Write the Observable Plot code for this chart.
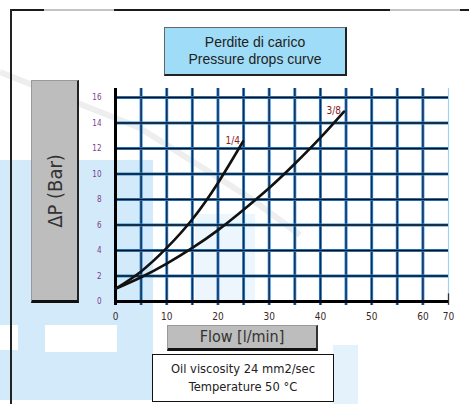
<!DOCTYPE html>
<html>
<head>
<meta charset="utf-8">
<script src="https://cdn.jsdelivr.net/npm/d3@7"></script>
<script src="https://cdn.jsdelivr.net/npm/@observablehq/plot@0.6"></script>
<style>
  html, body { margin: 0; padding: 0; background: #fff; }
  #wrap { position: relative; width: 469px; height: 404px; overflow: hidden; background: #fff; }
  .abs { position: absolute; box-sizing: border-box; }
  #chart { position: absolute; left: 0; top: 0; }
  .cond { font-family: "DejaVu Sans Condensed", "Liberation Sans Narrow", "DejaVu Sans", sans-serif; }
</style>
</head>
<body>
<div id="wrap">
  <!-- faint watermark -->
  <div class="abs" style="left:0;top:160px;width:153px;height:240px;background:#d2eaf9;"></div>
  <div class="abs" style="left:0;top:325px;width:18px;height:25px;background:#fff;"></div>
  <div class="abs" style="left:45px;top:325px;width:72px;height:27px;background:#fff;"></div>
  <div class="abs" style="left:195px;top:214px;width:60px;height:90px;background:#edf6fc;"></div>
  <div class="abs" style="left:333px;top:345px;width:25px;height:59px;background:#e3f2fb;"></div>
  <svg class="abs" style="left:0;top:0" width="469" height="404">
    <polyline points="0,72 140,128 250,198 300,235" fill="none" stroke="#eeeeee" stroke-width="6"/>
  </svg>

  <div id="chart"></div>

  <!-- outer frame -->
  <div class="abs" style="left:10px;top:9px;width:459px;height:2px;background:#1a1a1a;"></div>
  <div class="abs" style="left:44px;top:9px;width:70px;height:2px;background:#c4c4c4;"></div>
  <div class="abs" style="left:390px;top:9px;width:70px;height:2px;background:#c4c4c4;"></div>
  <div class="abs" style="left:10px;top:9px;width:2px;height:395px;background:#222;"></div>

  <!-- title -->
  <div class="abs" id="title" style="left:164px;top:27px;width:183px;height:49px;background:#9fdcf7;border:1px solid #666;border-right:2px solid #222;border-bottom:2px solid #222;font-family:'Liberation Sans',Arial,sans-serif;font-size:14px;line-height:17px;text-align:center;padding-top:6px;color:#222;"></div>

  <!-- y label box -->
  <div class="abs" style="left:31px;top:80px;width:48px;height:223px;background:#bdbdbd;border:1px solid #999;border-right:2px solid #222;border-bottom:3px solid #111;">
    <div id="ylab" class="cond" style="position:absolute;left:50%;top:50%;transform:translate(-50%,-50%) rotate(-90deg);white-space:nowrap;font-size:20px;color:#333;"></div>
  </div>

  <!-- x label box -->
  <div class="abs" style="left:167px;top:325px;width:151px;height:26px;background:#bdbdbd;border:1px solid #999;border-right:2px solid #333;border-bottom:3px solid #111;">
    <div id="xlab" class="cond" style="text-align:center;font-size:16px;line-height:22px;color:#333;"></div>
  </div>

  <!-- info box -->
  <div class="abs cond" id="info" style="left:152px;top:354px;width:182px;height:48px;background:#fff;border:1.5px solid #111;font-size:12.8px;line-height:18px;text-align:center;padding-top:5px;color:#222;"></div>
</div>

<script>
// ---- data ----
const titleLines = ["Perdite di carico", "Pressure drops curve"];
const yLabel = "ΔP (Bar)";
const xLabel = "Flow [l/min]";
const infoLines = ["Oil viscosity 24 mm2/sec", "Temperature 50 °C"];

const xGrid = [0, 5, 10, 15, 20, 25, 30, 35, 40, 45, 50, 55, 60];
const xLast = [65];
const yGrid = [0, 2, 4, 6, 8, 10, 12, 14, 16];
const xTickValues = [0, 10, 20, 30, 40, 50, 60, 65];
const xTickLabels = ["0", "10", "20", "30", "40", "50", "60", "70"];
const yTickValues = [0, 2, 4, 6, 8, 10, 12, 14, 16];

const seriesNames = ["1/4", "3/8"];
const flow14 = [0, 5, 10, 15, 20, 24.9];
const dp14   = [1.0, 2.36, 4.2, 6.45, 9.3, 12.55];
const flow38 = [0, 5, 10, 15, 20, 25, 30, 35, 40, 44.6];
const dp38   = [1.0, 1.9, 2.97, 4.2, 5.6, 7.2, 8.9, 10.8, 12.85, 14.9];

// ---- build ----
document.getElementById("title").innerHTML = titleLines.join("<br>");
document.getElementById("ylab").textContent = yLabel;
document.getElementById("xlab").textContent = xLabel;
document.getElementById("info").innerHTML = infoLines.join("<br>");

const s14 = flow14.map((f, i) => ({flow: f, dp: dp14[i], s: seriesNames[0]}));
const s38 = flow38.map((f, i) => ({flow: f, dp: dp38[i], s: seriesNames[1]}));
const ends = [s14[s14.length - 1], s38[s38.length - 1]];

const blue = "#2b8be3";
const chart = Plot.plot({
  width: 469,
  height: 404,
  marginLeft: 115,
  marginRight: 21,
  marginTop: 88,
  marginBottom: 99,
  x: {domain: [0, 65], range: [115, 448]},
  y: {domain: [0, 16], range: [301, 97]},
  style: {background: "transparent", overflow: "visible"},
  marks: [
    Plot.ruleX(xLast, {stroke: "#9fd0f5", strokeWidth: 1.2}),
    Plot.ruleX(xLast, {y1: 0.6, y2: -0.3, stroke: "#333", strokeWidth: 1.3}),
    Plot.ruleX(xGrid, {stroke: blue, strokeWidth: 3}),
    Plot.ruleX(xGrid, {stroke: "#1b2b44", strokeWidth: 1.4}),
    Plot.ruleY(yGrid, {stroke: blue, strokeWidth: 3.2}),
    Plot.ruleY(yGrid, {stroke: "#111", strokeWidth: 1.3}),
    Plot.ruleY([0], {stroke: "#000", strokeWidth: 3}),
    Plot.ruleX([0], {stroke: "#000", strokeWidth: 3}),
    Plot.axisX(xTickValues, {
      anchor: "bottom", tickSize: 0, tickPadding: 7,
      tickFormat: d => xTickLabels[xTickValues.indexOf(d)],
      fontSize: 10, fill: "#3a2a2a",
      fontFamily: "DejaVu Sans Condensed, DejaVu Sans, sans-serif", label: null
    }),
    Plot.axisY(yTickValues, {
      anchor: "left", tickSize: 0, tickPadding: 14,
      fontSize: 8, fill: "#7b3d8e",
      fontFamily: "DejaVu Sans Condensed, DejaVu Sans, sans-serif", label: null
    }),
    Plot.line(s14, {x: "flow", y: "dp", curve: "natural", stroke: "#111", strokeWidth: 2.6}),
    Plot.line(s38, {x: "flow", y: "dp", curve: "natural", stroke: "#111", strokeWidth: 2.6}),
    Plot.text(ends, {
      x: "flow", y: "dp", text: "s", textAnchor: "end", dx: -3, dy: -1,
      fontSize: 10, fill: "#8b1c1c",
      fontFamily: "DejaVu Sans Condensed, DejaVu Sans, sans-serif"
    })
  ]
});
document.getElementById("chart").appendChild(chart);
</script>
</body>
</html>
